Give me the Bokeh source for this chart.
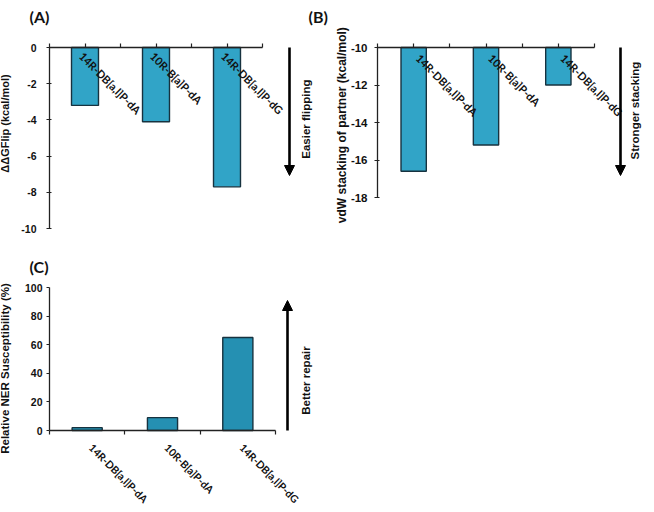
import math
from bokeh.plotting import figure
from bokeh.models import Range1d, FixedTicker, Arrow, NormalHead, ColumnDataSource
from bokeh.layouts import column, row
from bokeh.core.properties import value
from bokeh.embed import file_html
from bokeh.resources import INLINE

# ---------------- data ----------------
categories = ["14R-DB[a,l]P-dA", "10R-B[a]P-dA", "14R-DB[a,l]P-dG"]
dg_flip = [-3.2, -4.1, -7.7]
vdw_stacking = [-16.6, -15.2, -12.0]
ner_susceptibility = [2, 9, 65]
ticks_a = [0, -2, -4, -6, -8, -10]
ticks_b = [-10, -12, -14, -16, -18]
ticks_c = [0, 20, 40, 60, 80, 100]

x_centers = [i + 0.5 for i in range(len(categories))]
x_bounds = [i for i in range(len(categories) + 1)]

FONT = "Liberation Sans"
CAT_FONT = "Lato"
INK = "#111111"
TOP = 0  # page offset of the first row


def lin(p0, v0, p1, v1):
    s = (v1 - v0) / (p1 - p0)
    return lambda px: v0 + (px - p0) * s


def panel(left, top, width, height, xmap, ymap, xloc):
    fx = lin(*xmap)
    fy = lin(*ymap)
    p = figure(width=width, height=height,
               x_range=Range1d(fx(left), fx(left + width)),
               y_range=Range1d(fy(top + height), fy(top)),
               x_axis_location=xloc, y_axis_location="left",
               output_backend="svg", toolbar_location=None,
               min_border_left=0, min_border_right=0,
               min_border_top=0, min_border_bottom=0)
    p.outline_line_color = None
    p.grid.visible = False
    for ax in (p.xaxis[0], p.yaxis[0]):
        ax.axis_line_color = "#222222"
        ax.axis_line_width = 1.3
        ax.major_tick_line_color = "#222222"
        ax.minor_tick_line_color = "#222222"
        ax.major_tick_line_width = 1.2
        ax.minor_tick_line_width = 1.2
        ax.major_label_text_font = FONT
        ax.major_label_text_font_style = "bold"
        ax.major_label_text_color = INK
    p.yaxis.major_tick_out = 3
    p.yaxis.major_tick_in = 2
    p.yaxis.minor_tick_out = 0
    p.yaxis.minor_tick_in = 0
    p.xaxis.bounds = (0, 3)
    p.xaxis.major_tick_out = 0
    p.xaxis.major_tick_in = 0
    return p, fx, fy


def y_axis(p, ticks, tick_size, standoff):
    ax = p.yaxis[0]
    ax.fixed_location = 0
    ax.ticker = FixedTicker(ticks=ticks)
    ax.bounds = (min(ticks), max(ticks))
    ax.major_label_overrides = {t: str(t) for t in ticks}
    ax.major_label_text_font_size = tick_size
    ax.major_label_standoff = standoff


def y_title(p, fx, fy, px, py, text, size):
    p.text(x=[fx(px)], y=[fy(py)], text=[text], angle=math.pi / 2,
           text_align="center", text_baseline="middle", text_font=value(FONT),
           text_font_style="bold", text_font_size=size, text_color=INK)


def x_axis(p, y0, minor):
    ax = p.xaxis[0]
    ax.fixed_location = y0
    ax.ticker = FixedTicker(ticks=[], minor_ticks=minor)
    ax.minor_tick_out = 4
    ax.minor_tick_in = 0


def panel_label(p, fx, fy, px, py, text):
    p.text(x=[fx(px)], y=[fy(py)], text=[text], text_align="left",
           text_baseline="middle", text_font=value(CAT_FONT),
           text_font_style="bold", text_font_size="16px", text_color=INK)


def arrow(p, fx, fy, px, py0, py1, text, tx, ty):
    p.add_layout(Arrow(end=NormalHead(size=10, fill_color="black", line_color="black"),
                       x_start=fx(px), y_start=fy(py0), x_end=fx(px), y_end=fy(py1),
                       line_width=2.6, line_color="black"))
    p.text(x=[fx(tx)], y=[fy(ty)], text=[text], angle=math.pi / 2,
           text_align="center", text_baseline="middle", text_font=value(FONT),
           text_font_style="bold", text_font_size="11.5px", text_color=INK)


def cat_labels(p, ybase, size, xoff, yoff):
    src = ColumnDataSource(dict(x=x_centers, y=[ybase] * len(categories), t=categories))
    p.text(x="x", y="y", text="t", source=src, angle=-math.pi / 4,
           text_align="left", text_baseline="top", x_offset=xoff, y_offset=yoff,
           text_font=value(CAT_FONT), text_font_style="bold",
           text_font_size=size, text_color=INK)


# ---------------- Panel A ----------------
pa, fxa, fya = panel(8, TOP, 330, 252, (57, 0, 270, 3), (47, 0, 228, -10), "above")
pa.vbar(x=x_centers, top=[0] * 3, bottom=dg_flip, width=0.38,
        fill_color="#31a4c7", line_color="#17323f", line_width=1.4)
x_axis(pa, 0, x_centers + x_bounds)
y_axis(pa, ticks_a, "10.5px", 10)
y_title(pa, fxa, fya, 12.5, 123, "ΔΔGFlip (kcal/mol)", "11px")
cat_labels(pa, 0, "11px", 1, 2)
arrow(pa, fxa, fya, 297, 47, 175, "Easier  flipping", 313, 117)
panel_label(pa, fxa, fya, 37, 16, "(A)")
panel_label(pa, fxa, fya, 316, 16, "(B)")

# ---------------- Panel B ----------------
pb, fxb, fyb = panel(338, TOP, 312, 252, (385, 0, 602, 3), (47, -10, 197, -18), "above")
pb.vbar(x=x_centers, top=[-10] * 3, bottom=vdw_stacking, width=0.35,
        fill_color="#31a4c7", line_color="#17323f", line_width=1.4)
x_axis(pb, -10, x_centers + x_bounds)
y_axis(pb, ticks_b, "11.5px", 7)
y_title(pb, fxb, fyb, 349, 123, "vdW stacking of  partner (kcal/mol)", "12px")
cat_labels(pb, -10, "11px", 9, 4)
arrow(pb, fxb, fyb, 628, 47, 175, "Stronger stacking", 642, 110)

# ---------------- Panel C ----------------
pc, fxc, fyc = panel(8, TOP + 252, 330, 252, (57, 0, 283, 3), (287, 100, 430, 0), "below")
pc.vbar(x=x_centers, top=ner_susceptibility, bottom=0, width=0.40,
        fill_color="#2590b2", line_color="#17323f", line_width=1.4)
x_axis(pc, 0, x_bounds)
y_axis(pc, ticks_c, "10.5px", 4)
pc.yaxis.major_tick_in = 0
y_title(pc, fxc, fyc, 12, 368, "Relative NER Susceptibility (%)", "11.5px")
cat_labels(pc, 0, "10.5px", 8, 11)
arrow(pc, fxc, fyc, 295, 430, 300, "Better repair", 313, 380)
panel_label(pc, fxc, fyc, 37, 266, "(C)")

layout = column(row(pa, pb), pc)
open("out.html", "w").write(file_html(layout, INLINE))
